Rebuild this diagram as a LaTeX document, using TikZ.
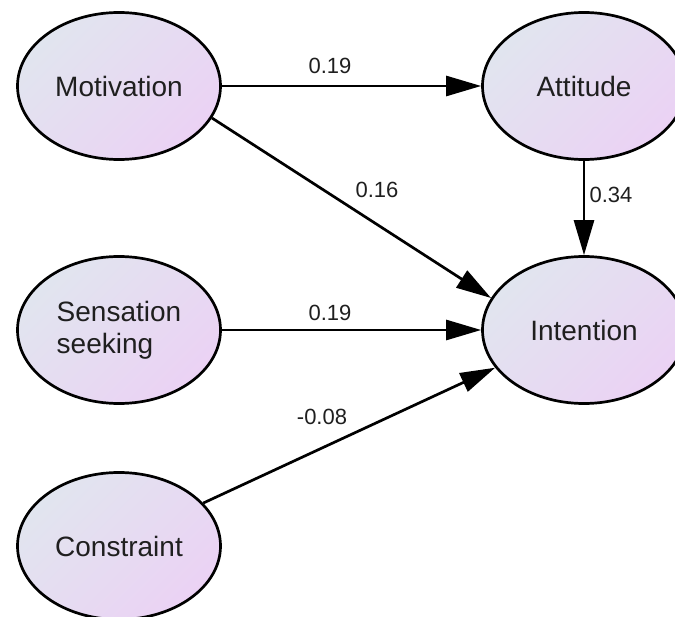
\documentclass[tikz,border=0pt]{standalone}
\usepackage{fontspec}
\setmainfont{Liberation Sans}
\usetikzlibrary{arrows.meta,shapes.geometric}
\definecolor{latleft}{HTML}{E1E5EF}
\definecolor{latright}{HTML}{EBD2F4}

\begin{document}
\begin{tikzpicture}[x=1pt,y=-1pt,
    latent/.style={ellipse,draw,line width=2.7pt,minimum width=203pt,minimum height=147pt,
      inner sep=0pt,left color=latleft,right color=latright,shading angle=45,
      text=black!88,font=\fontsize{28}{32}\selectfont,align=left},
    effect/.style={line width=2.7pt,-{Triangle[length=35pt,width=20pt]}},
    coef/.style={text=black!88,font=\fontsize{22}{26}\selectfont,inner sep=0pt}]
      \clip (0,0) rectangle (675,617);
      \node[latent] (mot) at (119,86) {Motivation};
      \node[latent] (att) at (584,86) {Attitude};
      \node[latent] (sen) at (119,330) {Sensation\\seeking};
      \node[latent] (int) at (584,330) {Intention};
      \node[latent] (con) at (119,546) {Constraint};
      \draw[effect] (mot) -- (att);
      \draw[effect] (mot.-19) -- (int.161);
      \draw[effect] (att) -- (int);
      \draw[effect] (sen) -- (int);
      \draw[effect] (con.27) -- (int.203);
      \node[coef] (w1) at (330,66) {0.19};
      \node[coef] (w2) at (377,190) {0.16};
      \node[coef] (w3) at (611,195) {0.34};
      \node[coef] (w4) at (330,313) {0.19};
      \node[coef] (w5) at (322,417) {-0.08};
    \end{tikzpicture}
\end{document}
